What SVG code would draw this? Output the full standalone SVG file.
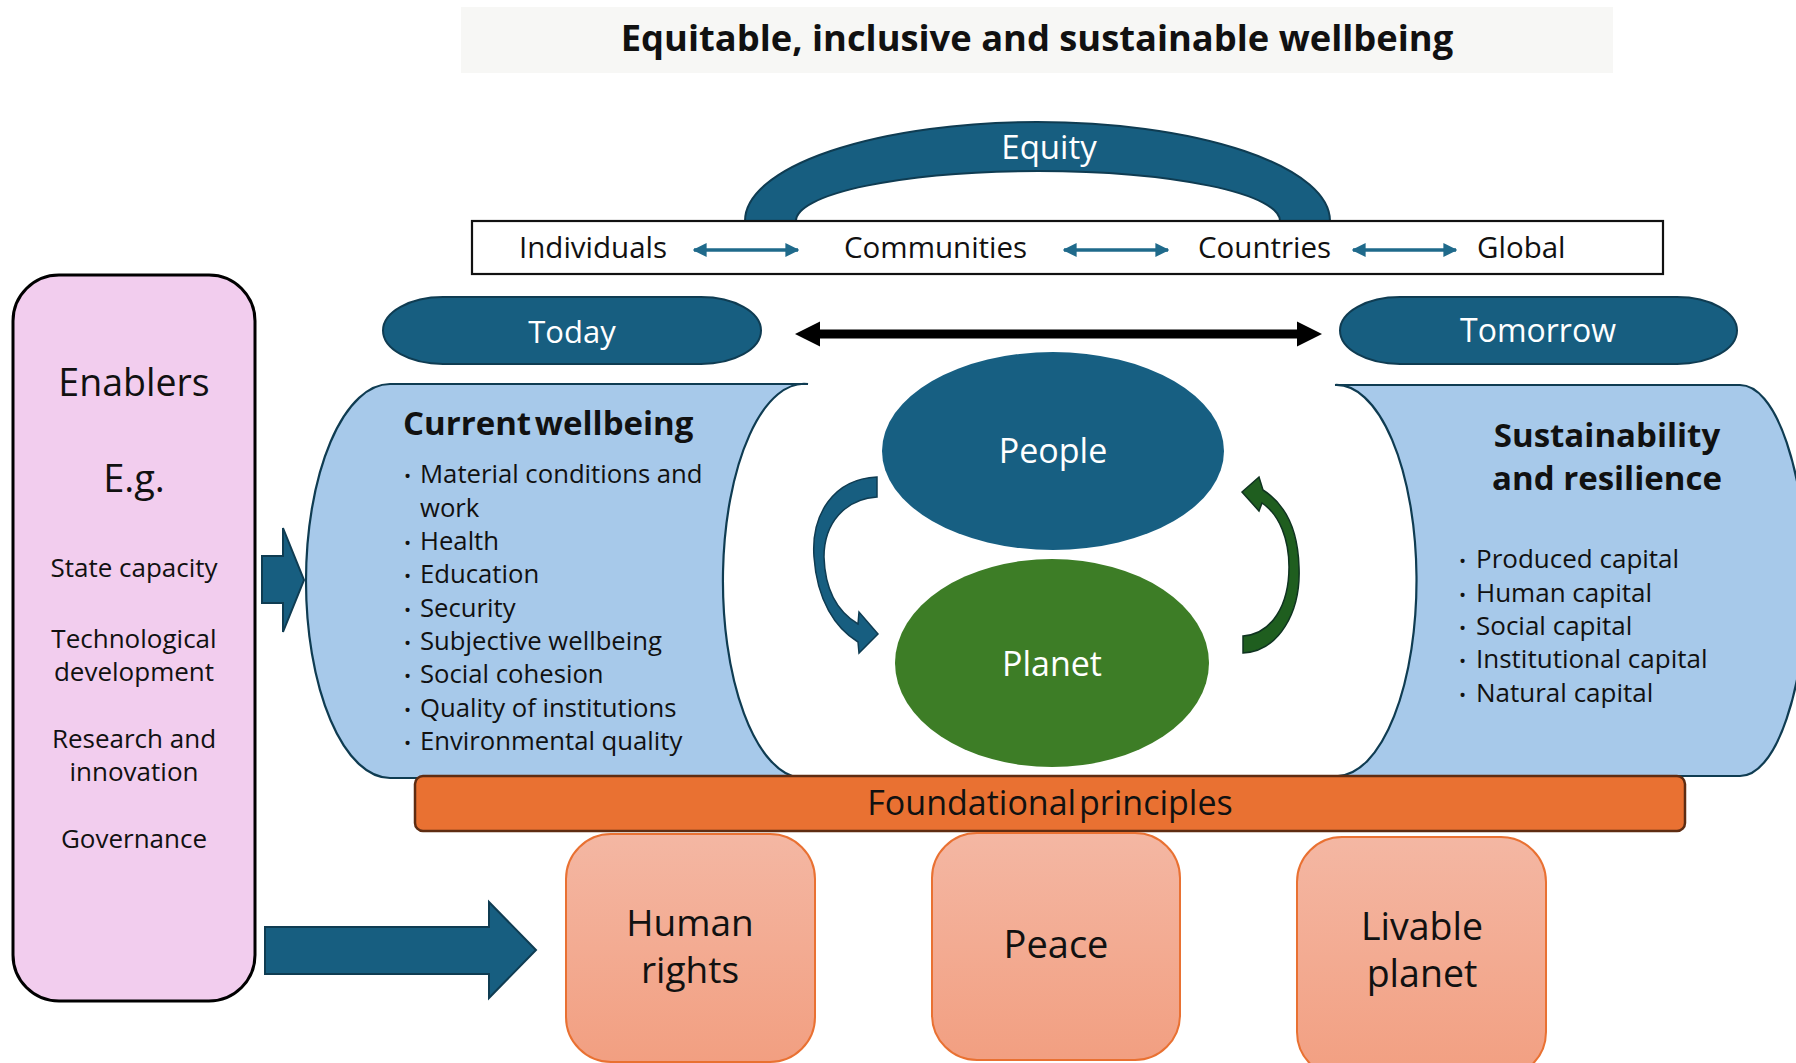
<svg xmlns="http://www.w3.org/2000/svg" width="1796" height="1063" viewBox="0 0 1796 1063">
<defs>
<linearGradient id="salmon" x1="0" y1="0" x2="0" y2="1">
<stop offset="0" stop-color="#f4b7a3"/>
<stop offset="1" stop-color="#f29f81"/>
</linearGradient>
<marker id="tealHead" viewBox="0 0 10 10" refX="9" refY="5" markerWidth="4" markerHeight="4" orient="auto-start-reverse" markerUnits="strokeWidth">
<path d="M0,0 L10,5 L0,10 Z" fill="#1f6a8b"/>
</marker>
</defs>
<style>
text{font-family:"Open Sans","Noto Sans","DejaVu Sans",sans-serif;fill:#111}
.w{fill:#fff}
.c{text-anchor:middle}
.b{font-weight:bold}
.dark{fill:#175e80;stroke:#0f3c52;stroke-width:2}
.scroll{fill:#a7c9ea;stroke:#0f3c52;stroke-width:2.2}
.salmon{fill:url(#salmon);stroke:#e97132;stroke-width:2}
.bul{font-size:25.7px}
.bul2{font-size:26px}
.dot{font-size:19px}
.tl{fill:none;stroke:#1f6a8b;stroke-width:3.5}
.en{font-size:26px}
</style>

<!-- Title -->
<g id="title">
<rect x="461" y="7" width="1152" height="66" fill="#f7f7f5"/>
<text class="b c" x="1037" y="51" font-size="36.3">Equitable, inclusive and sustainable wellbeing</text>
</g>

<!-- Equity arc -->
<g id="equity">
<path class="dark" d="M745,221 A292.5,99 0 0 1 1330,221 L1280,221 A242,50 0 0 0 796,221 Z"/>
<text class="w c" x="1049" y="159" font-size="33">Equity</text>
</g>

<!-- Scale box -->
<g id="scale">
<rect x="472" y="221" width="1191" height="53" fill="#fff" stroke="#111" stroke-width="2.2"/>
<text x="519" y="258" font-size="29.5">Individuals</text>
<text x="844" y="258" font-size="29.5">Communities</text>
<text x="1198" y="258" font-size="29.5">Countries</text>
<text x="1477" y="258" font-size="29.5">Global</text>
</g>

<!-- Enablers -->
<g id="enablers">
<rect x="13" y="275" width="242" height="726" rx="46" ry="46" fill="#f2cdee" stroke="#000" stroke-width="3"/>
<text class="c" x="134" y="396" font-size="37.5">Enablers</text>
<text class="c" x="134" y="492" font-size="38">E.g.</text>
<text class="c en" x="134" y="577">State capacity</text>
<text class="c en" x="134" y="648">Technological</text>
<text class="c en" x="134" y="681">development</text>
<text class="c en" x="134" y="748">Research and</text>
<text class="c en" x="134" y="781">innovation</text>
<text class="c en" x="134" y="848">Governance</text>
</g>

<!-- Today / Tomorrow -->
<g id="today">
<rect class="dark" x="383" y="297" width="378" height="67" rx="60" ry="33.5"/>
<text class="w c" x="572" y="343" font-size="31">Today</text>
</g>
<g id="tomorrow">
<rect class="dark" x="1340" y="297" width="397" height="67" rx="60" ry="33.5"/>
<text class="w c" x="1538" y="342" font-size="32">Tomorrow</text>
</g>

<!-- Current wellbeing -->
<g id="current">
<path class="scroll" d="M390,384 L808,384 A81,197 0 0 0 800,778 L390,778 A84,197 0 0 1 390,384 Z"/>
<text class="b" x="403" y="435" font-size="33" word-spacing="-5">Current wellbeing</text>
<g class="bul">
<text x="404" y="483"><tspan class="dot">•</tspan><tspan x="420">Material conditions and</tspan></text>
<text x="420" y="517">work</text>
<text x="404" y="550"><tspan class="dot">•</tspan><tspan x="420">Health</tspan></text>
<text x="404" y="583"><tspan class="dot">•</tspan><tspan x="420">Education</tspan></text>
<text x="404" y="617"><tspan class="dot">•</tspan><tspan x="420">Security</tspan></text>
<text x="404" y="650"><tspan class="dot">•</tspan><tspan x="420">Subjective wellbeing</tspan></text>
<text x="404" y="683"><tspan class="dot">•</tspan><tspan x="420">Social cohesion</tspan></text>
<text x="404" y="717"><tspan class="dot">•</tspan><tspan x="420">Quality of institutions</tspan></text>
<text x="404" y="750"><tspan class="dot">•</tspan><tspan x="420">Environmental quality</tspan></text>
</g>
</g>

<!-- Sustainability -->
<g id="sustain">
<path class="scroll" d="M1335,385 L1740,385 A66,195.5 0 0 1 1740,776 L1338,776 A80,195.5 0 0 0 1335,385 Z"/>
<text class="b c" x="1607" y="447" font-size="33">Sustainability</text>
<text class="b c" x="1607" y="490" font-size="33">and resilience</text>
<g class="bul2">
<text x="1459" y="568"><tspan class="dot">•</tspan><tspan x="1476">Produced capital</tspan></text>
<text x="1459" y="602"><tspan class="dot">•</tspan><tspan x="1476">Human capital</tspan></text>
<text x="1459" y="635"><tspan class="dot">•</tspan><tspan x="1476">Social capital</tspan></text>
<text x="1459" y="668"><tspan class="dot">•</tspan><tspan x="1476">Institutional capital</tspan></text>
<text x="1459" y="702"><tspan class="dot">•</tspan><tspan x="1476">Natural capital</tspan></text>
</g>
</g>

<!-- People / Planet -->
<g id="people">
<ellipse cx="1053" cy="451" rx="171" ry="99" fill="#175f82"/>
<text class="w c" x="1053" y="463" font-size="34">People</text>
</g>
<g id="planet">
<ellipse cx="1052" cy="663" rx="157" ry="104" fill="#3d7d26"/>
<text class="w c" x="1052" y="676" font-size="34">Planet</text>
</g>

<!-- Foundational principles -->
<g id="foundation">
<rect x="415" y="776" width="1270" height="55" rx="8" ry="8" fill="#e97132" stroke="#5e2c12" stroke-width="2.5"/>
<text class="c" x="1050" y="815" font-size="34" word-spacing="-6">Foundational principles</text>
</g>

<g id="human-rights">
<rect class="salmon" x="566" y="834" width="249" height="228" rx="45" ry="45"/>
<text class="c" x="690" y="936" font-size="37">Human</text>
<text class="c" x="690" y="983" font-size="37">rights</text>
</g>
<g id="peace">
<rect class="salmon" x="932" y="833" width="248" height="227" rx="45" ry="45"/>
<text class="c" x="1056" y="958" font-size="38">Peace</text>
</g>
<g id="livable">
<rect class="salmon" x="1297" y="837" width="249" height="240" rx="45" ry="45"/>
<text class="c" x="1422" y="940" font-size="37.5">Livable</text>
<text class="c" x="1422" y="987" font-size="37.5">planet</text>
</g>

<!-- Connectors -->
<g id="connectors">
<line class="tl" x1="694" y1="250" x2="798" y2="250" marker-start="url(#tealHead)" marker-end="url(#tealHead)"/>
<line class="tl" x1="1064" y1="250" x2="1168" y2="250" marker-start="url(#tealHead)" marker-end="url(#tealHead)"/>
<line class="tl" x1="1353" y1="250" x2="1456" y2="250" marker-start="url(#tealHead)" marker-end="url(#tealHead)"/>
<path d="M795,334 L820,321.5 L820,329.5 L1297,329.5 L1297,321.5 L1322,334 L1297,346.5 L1297,338.5 L820,338.5 L820,346.5 Z" fill="#000"/>
<path class="dark" d="M262,556 L283,556 L283,528 L304,580 L283,632 L283,603 L262,603 Z"/>
<path class="dark" d="M265,927 L489,927 L489,902 L536,950 L489,998 L489,974 L265,974 Z"/>
<path d="M877,477 C833,479 811,515 814,557 C817,600 835,628 858,642 L859,653 L878,634 L859,612 L858,624 C838,612 825,590 824,557 C824,523 845,499 877,497 Z" fill="#175e80" stroke="#0f3c52" stroke-width="1.5"/>
<path d="M1243,653 C1279,651 1301,612 1299,567 C1298,530 1285,504 1263,490 L1259,477 L1242,492 L1259,511 L1262,503 C1280,515 1289,540 1289,567 C1289,605 1272,634 1243,636 Z" fill="#1f5e1f" stroke="#0f3320" stroke-width="1.5"/>
</g>
</svg>
